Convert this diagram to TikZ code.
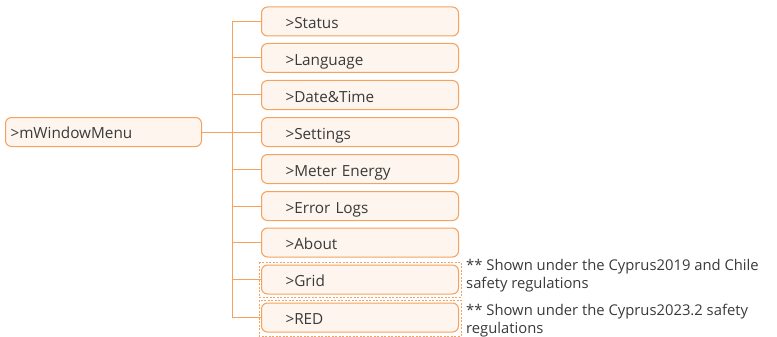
\documentclass[tikz,border=0pt]{standalone}
\usepackage{fontspec}
\setmainfont{Open Sans}
\definecolor{orline}{HTML}{F4A25E}
\definecolor{orfill}{HTML}{FDF5EE}
\definecolor{txt}{HTML}{3A3A3A}
\begin{document}
\begin{tikzpicture}[x=1pt,y=-1pt,
  menubox/.style={draw=orline, fill=orfill, line width=1pt, rounded corners=6pt,
    minimum height=29pt, inner sep=0pt, anchor=west, text=txt,
    text depth=0pt, font=\fontsize{15.3}{17}\selectfont},
  childbox/.style={menubox, minimum width=197pt, text width=149pt, align=left, text height=14.5pt},
  conn/.style={draw=orline, line width=1pt},
  dashbox/.style={draw=orline, line width=0.8pt, dash pattern=on 2pt off 1.5pt},
  note/.style={anchor=north west, text=txt, align=left, inner sep=0pt,
    font=\fontsize{14.8}{17.5}\selectfont}]
\useasboundingbox (0,0) rectangle (777,337);
\node[menubox, minimum width=196pt, text width=186pt, align=left, text height=13pt] (main) at (5,132) {>mWindowMenu};
\node[childbox] (c1) at (261,21.5) {>Status};
\node[childbox] (c2) at (261,58) {>Language};
\node[childbox] (c3) at (261,95) {>Date\&Time};
\node[childbox] (c4) at (261,132) {>Settings};
\node[childbox] (c5) at (261,169) {>Meter Energy};
\node[childbox] (c6) at (261,206) {>Error Logs};
\node[childbox] (c7) at (261,242.5) {>About};
\node[childbox] (c8) at (261,279.5) {>Grid};
\node[childbox] (c9) at (261,317.5) {>RED};
\coordinate (top) at (232,21.5);
\coordinate (bot) at (232,317.5);
\draw[conn] (top) -- (bot);
\draw[conn] (main.east) -- (232,132);
\foreach \i in {1,...,9} { \draw[conn] (232, 0 |- c\i.west) -- (c\i.west); }
\draw[dashbox] (259,262) rectangle (461,297);
\draw[dashbox] (259,300) rectangle (461,336);
\node[note] (n1) at (466,259.5) {** Shown under the Cyprus2019 and Chile\\safety regulations};
\node[note] (n2) at (466,304) {** Shown under the Cyprus2023.2 safety\\regulations};
\end{tikzpicture}
\end{document}
